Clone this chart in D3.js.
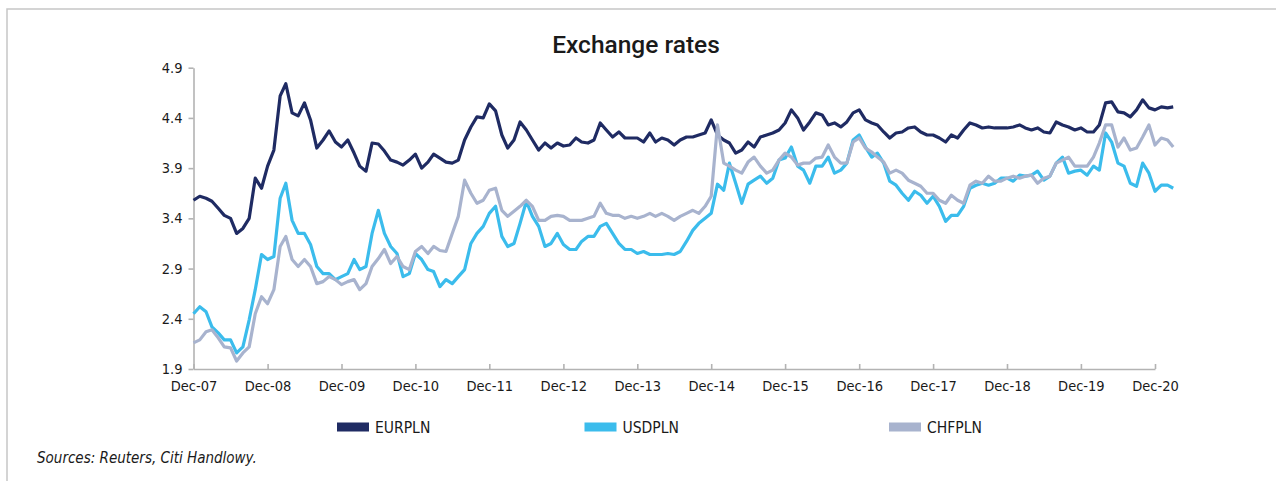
<!DOCTYPE html>
<html>
<head>
<meta charset="utf-8">
<script src="https://cdn.jsdelivr.net/npm/d3@7"></script>
<style>
  body { margin: 0; background: #fff; }
  svg text { font-family: "DejaVu Sans Condensed", "Liberation Sans Narrow", sans-serif; fill: #1a1a1a; }
  .title { font-family: Roboto, "Open Sans", sans-serif; font-weight: 500; }
  .axis path, .axis line { stroke: #b3b3b3; stroke-width: 1.6; }
</style>
</head>
<body>
<script>
// monthly series, first point = Dec 2007
const startMonth = new Date(2007, 11, 1);

const seriesNames = ["EURPLN", "USDPLN", "CHFPLN"];
const seriesColors = ["#1f2b63", "#3bbcec", "#a8b3ce"];

const eurpln = [
  3.58, 3.62, 3.60, 3.57, 3.50, 3.43, 3.40, 3.25, 3.30, 3.40, 3.80, 3.70,
  3.92, 4.08, 4.62, 4.74, 4.45, 4.42, 4.55, 4.38, 4.10, 4.18, 4.27, 4.16,
  4.11, 4.18, 4.05, 3.92, 3.87, 4.15, 4.14, 4.07, 3.98, 3.96, 3.93, 3.98,
  4.04, 3.90, 3.96, 4.04, 4.00, 3.96, 3.95, 3.98, 4.18, 4.31, 4.41, 4.40,
  4.54, 4.47, 4.23, 4.10, 4.18, 4.36, 4.28, 4.18, 4.08, 4.15, 4.10, 4.15,
  4.12, 4.13, 4.20, 4.16, 4.15, 4.18, 4.35, 4.28, 4.21, 4.26, 4.20, 4.20,
  4.20, 4.16, 4.25, 4.16, 4.20, 4.18, 4.13, 4.18, 4.21, 4.21, 4.23, 4.25,
  4.38, 4.23, 4.18, 4.15, 4.05, 4.08, 4.16, 4.11, 4.21, 4.23, 4.25, 4.28,
  4.35, 4.48, 4.40, 4.28, 4.36, 4.45, 4.43, 4.33, 4.35, 4.31, 4.36, 4.45,
  4.48, 4.38, 4.35, 4.33, 4.26, 4.20, 4.25, 4.26, 4.30, 4.31, 4.26, 4.23,
  4.23, 4.20, 4.16, 4.23, 4.20, 4.28, 4.35, 4.33, 4.30, 4.31, 4.30, 4.30,
  4.30, 4.31, 4.33, 4.30, 4.28, 4.30, 4.26, 4.25, 4.36, 4.33, 4.31, 4.28,
  4.30, 4.26, 4.26, 4.33, 4.55, 4.56, 4.46, 4.45, 4.41, 4.48, 4.58, 4.50,
  4.48, 4.51, 4.50, 4.51
];

const usdpln = [
  2.45, 2.52, 2.47, 2.32, 2.26, 2.19, 2.19, 2.06, 2.12, 2.39, 2.69, 3.04,
  2.99, 3.02, 3.60, 3.75, 3.38, 3.25, 3.25, 3.14, 2.92, 2.85, 2.85, 2.79,
  2.82, 2.85, 2.99, 2.89, 2.92, 3.25, 3.48, 3.25, 3.12, 3.05, 2.82, 2.85,
  3.05, 2.99, 2.89, 2.87, 2.72, 2.79, 2.75, 2.82, 2.89, 3.15, 3.25, 3.32,
  3.45, 3.52, 3.22, 3.12, 3.15, 3.35, 3.57, 3.42, 3.32, 3.12, 3.15, 3.25,
  3.14, 3.09, 3.09, 3.17, 3.22, 3.22, 3.32, 3.35, 3.25, 3.15, 3.09, 3.09,
  3.05, 3.07, 3.04, 3.04, 3.04, 3.05, 3.04, 3.07, 3.17, 3.28, 3.35, 3.40,
  3.45, 3.74, 3.68, 3.95, 3.75, 3.55, 3.74, 3.78, 3.82, 3.75, 3.80, 3.98,
  4.00, 4.11, 3.92, 3.88, 3.75, 3.92, 3.92, 4.01, 3.85, 3.88, 3.95, 4.18,
  4.23, 4.11, 4.01, 4.05, 3.95, 3.77, 3.73, 3.65, 3.58, 3.67, 3.63, 3.55,
  3.62, 3.52, 3.37, 3.43, 3.43, 3.52, 3.70, 3.73, 3.75, 3.73, 3.75, 3.80,
  3.80, 3.77, 3.83, 3.82, 3.83, 3.87, 3.78, 3.82, 3.95, 4.01, 3.85, 3.87,
  3.88, 3.83, 3.92, 3.88, 4.25, 4.16, 3.95, 3.92, 3.75, 3.72, 3.95, 3.85,
  3.67, 3.73, 3.73, 3.70
];

const chfpln = [
  2.16, 2.19, 2.27, 2.29, 2.21, 2.12, 2.11, 1.98, 2.06, 2.12, 2.45, 2.62,
  2.55, 2.69, 3.12, 3.22, 2.99, 2.92, 2.99, 2.92, 2.75, 2.77, 2.82, 2.79,
  2.74, 2.77, 2.79, 2.69, 2.75, 2.92, 3.00, 3.09, 2.95, 3.02, 2.92, 2.89,
  3.07, 3.12, 3.05, 3.12, 3.08, 3.07, 3.25, 3.42, 3.78, 3.65, 3.55, 3.58,
  3.68, 3.70, 3.48, 3.42, 3.47, 3.52, 3.58, 3.52, 3.38, 3.38, 3.42, 3.43,
  3.42, 3.38, 3.38, 3.38, 3.40, 3.42, 3.55, 3.45, 3.43, 3.43, 3.40, 3.42,
  3.40, 3.42, 3.45, 3.42, 3.45, 3.42, 3.38, 3.42, 3.45, 3.48, 3.45, 3.52,
  3.62, 4.33, 3.95, 3.92, 3.88, 3.85, 3.96, 4.01, 3.92, 3.85, 3.88, 3.98,
  4.05, 4.01, 3.93, 3.95, 3.95, 4.00, 4.01, 4.13, 4.01, 3.95, 3.95, 4.16,
  4.20, 4.10, 4.06, 4.01, 3.96, 3.85, 3.88, 3.85, 3.78, 3.75, 3.72, 3.65,
  3.65, 3.58, 3.55, 3.63, 3.58, 3.55, 3.73, 3.77, 3.75, 3.82, 3.77, 3.77,
  3.80, 3.82, 3.80, 3.82, 3.83, 3.75, 3.80, 3.82, 3.95, 3.98, 4.01, 3.92,
  3.92, 3.92, 4.01, 4.15, 4.33, 4.33, 4.11, 4.20, 4.08, 4.10, 4.21, 4.33,
  4.13, 4.20, 4.18, 4.11
];

const yTicks = [1.9, 2.4, 2.9, 3.4, 3.9, 4.4, 4.9];

const svg = d3.select("body")
  .append("svg")
  .attr("width", 1276)
  .attr("height", 481);

// frame around the exhibit
svg.append("rect")
  .attr("x", 7).attr("y", 9)
  .attr("width", 1290).attr("height", 500)
  .attr("fill", "none")
  .attr("stroke", "#c6c6c6")
  .attr("stroke-width", 1.5);

// scales
const x = d3.scaleTime()
  .domain([startMonth, new Date(2020, 11, 1)])
  .range([193.5, 1155]);
const y = d3.scaleLinear()
  .domain([1.9, 4.9])
  .range([369, 67.7]);

// title
svg.append("text")
  .attr("class", "title")
  .attr("x", 636).attr("y", 53)
  .attr("text-anchor", "middle")
  .attr("font-size", 24.5)
  .text("Exchange rates");

// axes
const xAxis = svg.append("g")
  .attr("class", "axis")
  .attr("transform", "translate(0,369)")
  .call(d3.axisBottom(x)
    .tickValues(d3.range(2007, 2021).map(yr => new Date(yr, 11, 1)))
    .tickFormat(d3.timeFormat("Dec-%y"))
    .tickSizeInner(-5).tickSizeOuter(0).tickPadding(12));
xAxis.selectAll("text").attr("font-size", 14.5).attr("dy", "0.71em");

const yAxis = svg.append("g")
  .attr("class", "axis")
  .attr("transform", "translate(193.5,0)")
  .call(d3.axisLeft(y)
    .tickValues(yTicks)
    .tickFormat(d3.format(".1f"))
    .tickSizeInner(5).tickSizeOuter(0).tickPadding(6));
yAxis.selectAll("text").attr("font-size", 14.5);

// lines
const allSeries = [eurpln, usdpln, chfpln];
const line = d3.line()
  .x((d, i) => x(d3.timeMonth.offset(startMonth, i)))
  .y(d => y(d));

allSeries.forEach((s, k) => {
  svg.append("path")
    .datum(s)
    .attr("fill", "none")
    .attr("stroke", seriesColors[k])
    .attr("stroke-width", 3.2)
    .attr("stroke-linejoin", "round")
    .attr("d", line);
});

// legend
const legendX = [337, 584.5, 889];
const legend = svg.selectAll(".legend")
  .data(seriesNames)
  .enter()
  .append("g")
  .attr("class", "legend")
  .attr("transform", (d, i) => "translate(" + legendX[i] + ",427)");
legend.append("rect")
  .attr("x", 0).attr("y", -4.5)
  .attr("width", 32).attr("height", 9)
  .attr("fill", (d, i) => seriesColors[i]);
legend.append("text")
  .attr("x", 38).attr("y", 5.5)
  .attr("font-size", 15.5)
  .text(d => d);

// source note
svg.append("text")
  .attr("x", 37).attr("y", 463)
  .attr("font-size", 15)
  .attr("font-style", "italic")
  .text("Sources: Reuters, Citi Handlowy.");
</script>
</body>
</html>
